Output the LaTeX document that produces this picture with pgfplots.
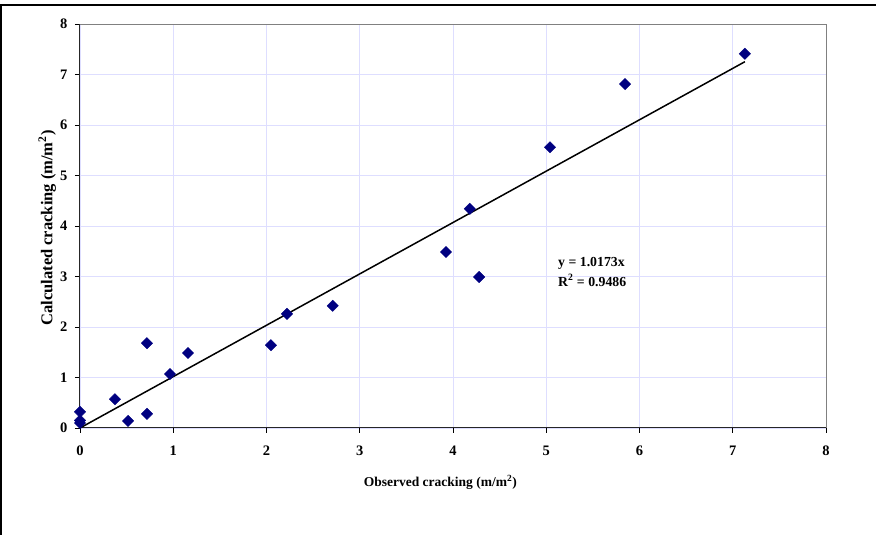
\documentclass[border=0pt]{standalone}
\usepackage{pgfplots}
\pgfplotsset{compat=1.18}
\usepackage{fontspec}
\setmainfont{Liberation Serif}
\definecolor{gridc}{RGB}{222,222,255}
\definecolor{navyc}{RGB}{0,0,128}
\begin{document}
\begin{tikzpicture}[font=\fontsize{13.5}{16}\selectfont\bfseries]
\path[use as bounding box] (-80pt,-107pt) rectangle (796pt,428pt);
\draw[line width=2pt] (-79pt,-107pt) -- (-79pt,423pt) -- (796pt,423pt);
\begin{axis}[
  at={(0pt,0pt)}, anchor=south west,
  scale only axis, width=746pt, height=404pt,
  xmin=0, xmax=8, ymin=0, ymax=8,
  xtick={0,...,8}, ytick={0,...,8},
  xtick pos=bottom, ytick pos=left,
  grid=major,
  major grid style={gridc, line width=0.8pt},
  axis line style={draw=none},
  tick style={black, line width=0.8pt},
  tick align=outside,
  major tick length=5pt,
  /pgf/number format/assume math mode=true,
  ticklabel style={font=\fontsize{14.5}{16}\selectfont\bfseries},
  xticklabel style={yshift=-9pt},
  yticklabel style={xshift=-4pt},
  xlabel={Observed cracking (m/m\textsuperscript{2})},
  ylabel={Calculated cracking (m/m\textsuperscript{2})},
  xlabel style={at={(axis description cs:0.483,0)}, anchor=center, yshift=-54pt},
  ylabel style={at={(axis description cs:-0.044,0.495)}, anchor=center, font=\fontsize{16.5}{18}\selectfont\bfseries},
  clip=false,
]
\draw[gray, line width=0.8pt] (axis cs:0,8) -- (axis cs:8,8) -- (axis cs:8,0);
\draw[black!85, line width=1pt] (axis cs:0,8) -- (axis cs:0,0) -- (axis cs:8,0);
\addplot[black, line width=1.5pt] coordinates {(0,0) (7.13,7.253)};
\addplot[only marks, mark=square*, mark size=4pt, mark options={rotate=45, fill=navyc, draw=navyc}] coordinates {
(0,0.32) (0,0.15) (0,0.10)
(0.375,0.57) (0.515,0.14) (0.718,0.28) (0.718,1.68)
(0.965,1.07) (1.158,1.485) (2.048,1.64) (2.22,2.26) (2.71,2.42)
(3.925,3.485) (4.18,4.34) (4.28,2.99) (5.04,5.56) (5.845,6.81) (7.13,7.41)
};
\node[anchor=west, align=left, inner sep=0pt, font=\fontsize{13.8}{19.5}\selectfont\bfseries] at (axis cs:5.126,3.09) {y = 1.0173x\\R\textsuperscript{2} = 0.9486};
\end{axis}
\end{tikzpicture}
\end{document}
